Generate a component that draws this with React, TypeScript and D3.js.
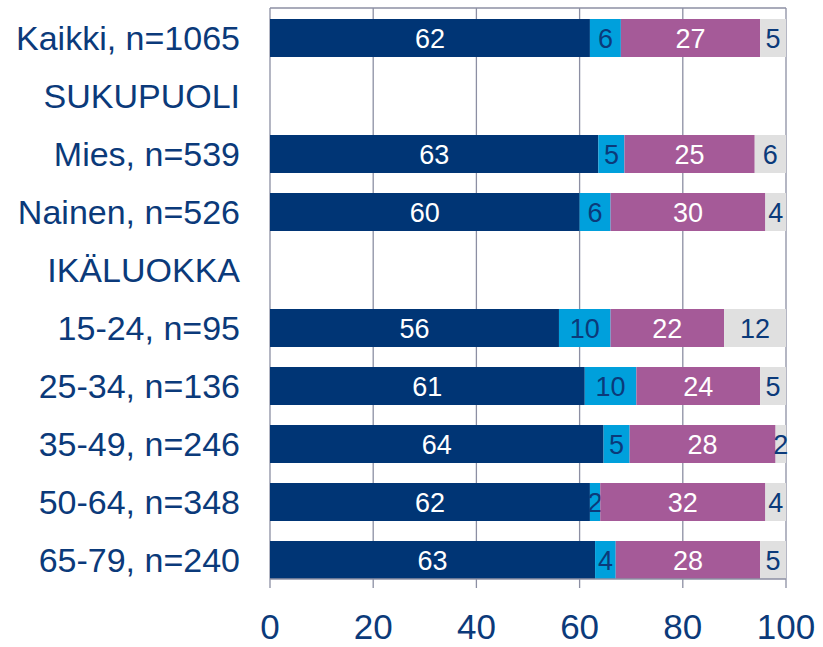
import { useEffect, useRef } from 'react';
import * as d3 from 'd3';

const categories = [
  'Kaikki, n=1065',
  'SUKUPUOLI',
  'Mies, n=539',
  'Nainen, n=526',
  'IKÄLUOKKA',
  '15-24, n=95',
  '25-34, n=136',
  '35-49, n=246',
  '50-64, n=348',
  '65-79, n=240',
];
// share of answers per group, four answer classes (null = heading row, no bar)
const seriesA = [62, null, 63, 60, null, 56, 61, 64, 62, 63];
const seriesB = [6, null, 5, 6, null, 10, 10, 5, 2, 4];
const seriesC = [27, null, 25, 30, null, 22, 24, 28, 32, 28];
const seriesD = [5, null, 6, 4, null, 12, 5, 2, 4, 5];
const xTicks = [0, 20, 40, 60, 80, 100];

const keys = ['a', 'b', 'c', 'd'];
const fills = ['#003575', '#00A0DC', '#A55A98', '#E0E0E0'];
const textFills = ['#ffffff', '#0B3A7A', '#ffffff', '#0B3A7A'];
const navy = '#0B3A7A';
const gridColor = '#8C8FA3';
const font = 'Liberation Sans, Arial, sans-serif';

const App = () => {
  const ref = useRef<SVGSVGElement>(null);

  useEffect(() => {
    if (!ref.current) return;
    const svg = d3.select(ref.current);
    svg.selectAll('*').remove();

    const x0 = 270;
    const x1 = 786;
    const top = 8;

    const rows = categories.map((cat, i) => ({
      cat,
      a: seriesA[i] ?? 0,
      b: seriesB[i] ?? 0,
      c: seriesC[i] ?? 0,
      d: seriesD[i] ?? 0,
      empty: seriesA[i] == null,
    }));

    const x = d3.scaleLinear().domain([0, 1]).range([x0, x1]);
    const y = d3.scaleBand<string>().domain(categories).range([19, 579]).paddingInner(0.345).paddingOuter(0);

    const stack = d3.stack<any>().keys(keys).offset(d3.stackOffsetExpand);
    const layers = stack(rows.filter((r) => !r.empty));

    const g = svg.append('g');

    // grid + ticks
    xTicks.forEach((t) => {
      g.append('line')
        .attr('x1', x(t / 100)).attr('x2', x(t / 100))
        .attr('y1', top).attr('y2', 588)
        .attr('stroke', gridColor).attr('stroke-width', 1.3);
    });
    g.append('line').attr('x1', x0).attr('x2', x1).attr('y1', top).attr('y2', top)
      .attr('stroke', gridColor).attr('stroke-width', 1.3);

    layers.forEach((layer, li) => {
      const lg = g.append('g');
      lg.selectAll('rect')
        .data(layer)
        .join('rect')
        .attr('x', (d) => x(d[0]))
        .attr('width', (d) => x(d[1]) - x(d[0]))
        .attr('y', (d) => y(d.data.cat)!)
        .attr('height', y.bandwidth())
        .attr('fill', fills[li]);
      lg.selectAll('text')
        .data(layer)
        .join('text')
        .attr('x', (d) => (x(d[0]) + x(d[1])) / 2)
        .attr('y', (d) => y(d.data.cat)! + y.bandwidth() / 2)
        .attr('dy', '0.36em')
        .attr('text-anchor', 'middle')
        .attr('font-family', font)
        .attr('font-size', 27)
        .attr('fill', textFills[li])
        .text((d) => d.data[keys[li]]);
    });

    // x axis line
    g.append('line').attr('x1', x0).attr('x2', x1).attr('y1', 579).attr('y2', 579)
      .attr('stroke', gridColor).attr('stroke-width', 1.3);

    g.selectAll('text.tick')
      .data(xTicks)
      .join('text')
      .attr('class', 'tick')
      .attr('x', (t) => x(t / 100))
      .attr('y', 639)
      .attr('text-anchor', 'middle')
      .attr('font-family', font)
      .attr('font-size', 35)
      .attr('fill', navy)
      .text((t) => t);

    g.selectAll('text.cat')
      .data(categories)
      .join('text')
      .attr('class', 'cat')
      .attr('x', 240)
      .attr('y', (c) => y(c)! + y.bandwidth() / 2)
      .attr('dy', '0.36em')
      .attr('text-anchor', 'end')
      .attr('font-family', font)
      .attr('font-size', 34)
      .attr('fill', navy)
      .text((c) => c);
  }, []);

  return <svg ref={ref} width={823} height={647} style={{ position: 'absolute', left: 0, top: 0 }} />;
};

export default App;
